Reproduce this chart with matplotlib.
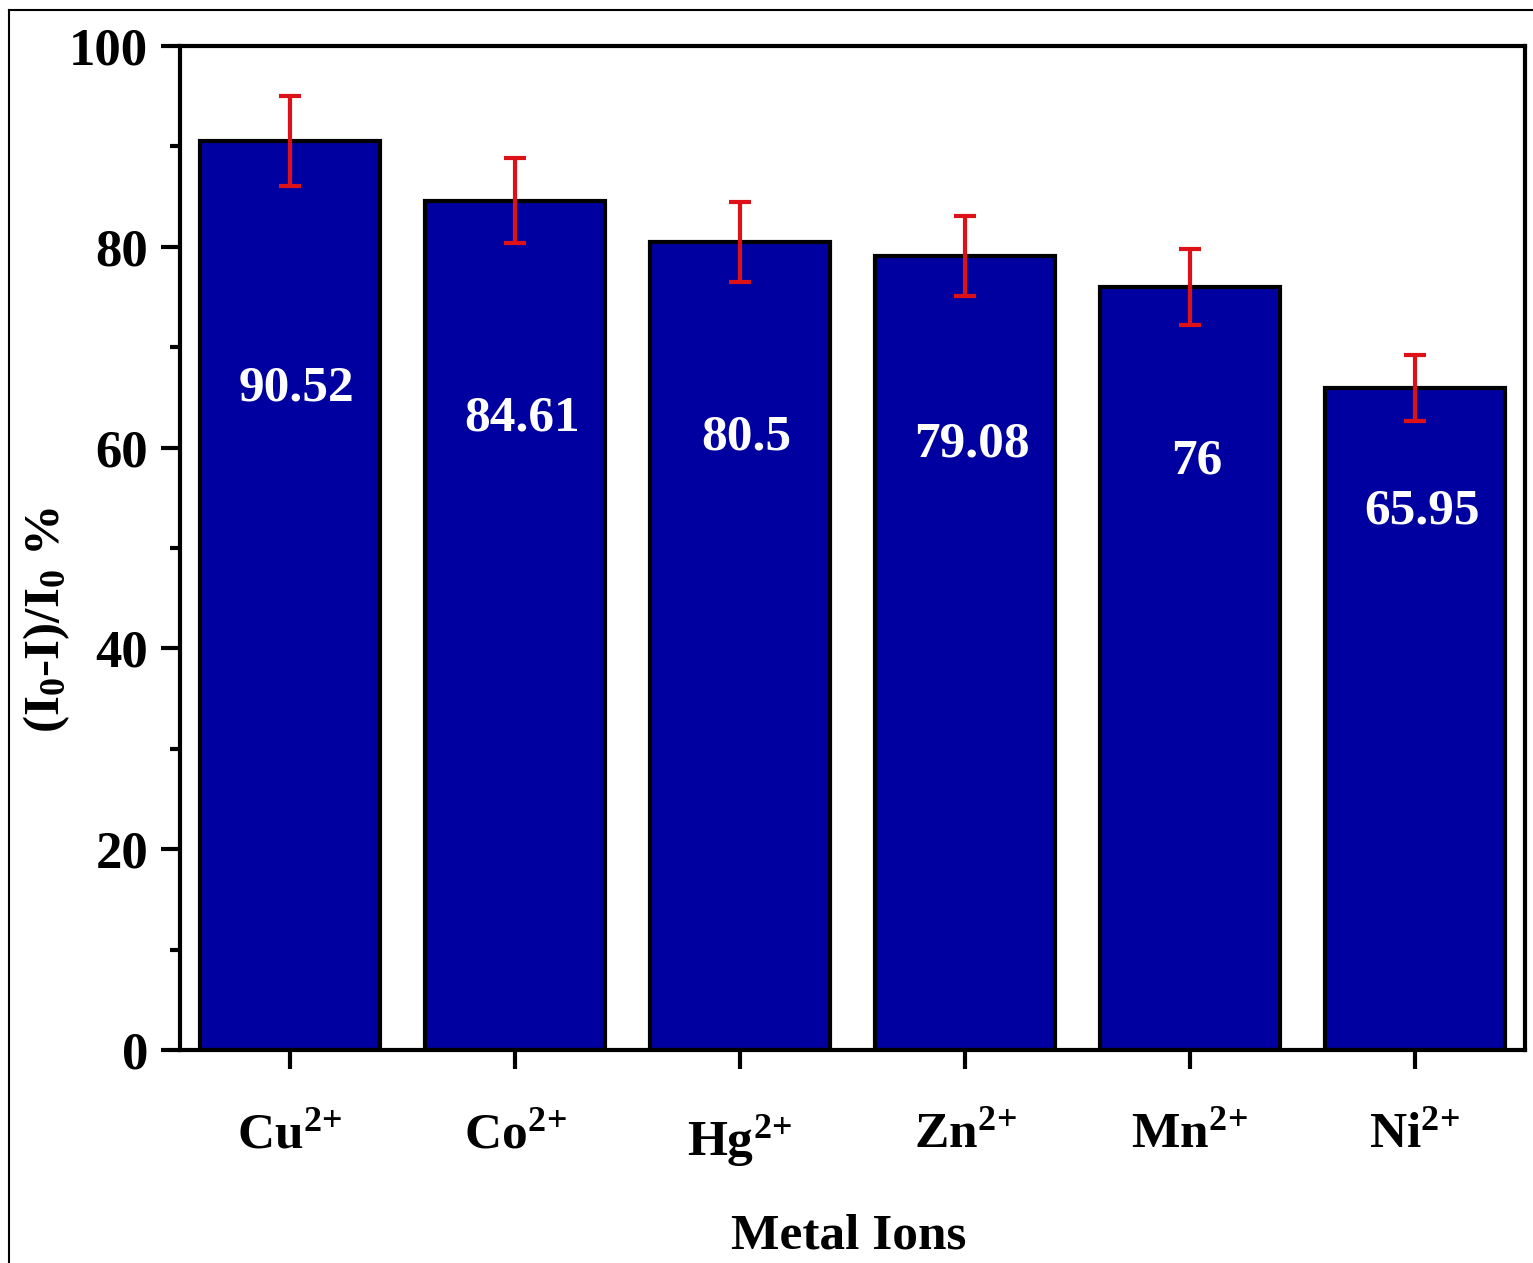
import matplotlib
matplotlib.use("Agg")
import matplotlib.pyplot as plt
from matplotlib.lines import Line2D
from matplotlib.ticker import MultipleLocator
import numpy as np

# data
ions = ["Cu", "Co", "Hg", "Zn", "Mn", "Ni"]
quench = [90.52, 84.61, 80.5, 79.08, 76, 65.95]
errors = [4.5, 4.2, 4.0, 4.0, 3.8, 3.3]
value_text = ["90.52", "84.61", "80.5", "79.08", "76", "65.95"]
label_y = [65.9, 62.9, 61.0, 60.3, 58.6, 53.6]

plt.rcParams['font.family'] = ['Liberation Serif', 'DejaVu Serif']
plt.rcParams['font.weight'] = 'bold'
plt.rcParams['mathtext.fontset'] = 'custom'
plt.rcParams['mathtext.rm'] = 'Liberation Serif'
plt.rcParams['mathtext.bf'] = 'Liberation Serif:bold'
plt.rcParams['mathtext.it'] = 'Liberation Serif:italic'

fig = plt.figure(figsize=(15.33, 12.63), dpi=100)
ax = fig.add_axes([0.1174, 0.1686, 0.8774, 0.795])

x = np.arange(len(ions))
ax.bar(x, quench, width=0.8, color='#0000A0', edgecolor='black', linewidth=3, zorder=2)
ax.errorbar(x, quench, yerr=errors, fmt='none', ecolor='#DD1118',
            elinewidth=3, capsize=8, capthick=3, zorder=3)

for xi, ly, txt in zip(x, label_y, value_text):
    ax.text(xi + 0.03, ly, txt, color='white', fontsize=37, fontweight='bold',
            ha='center', va='center', zorder=4)

ax.set_xlim(-0.49, 5.49)
ax.set_ylim(0, 100)
ax.set_xticks(x)
ax.set_xticklabels([n + r'$^{2\!+}$' for n in ions], fontsize=37, fontweight='bold')
ax.yaxis.set_major_locator(MultipleLocator(20))
ax.yaxis.set_minor_locator(MultipleLocator(10))
for lab in ax.get_yticklabels():
    lab.set_fontsize(38)
    lab.set_fontweight('bold')

ax.tick_params(axis='y', which='major', direction='out', length=14, width=3, pad=9)
ax.tick_params(axis='y', which='minor', direction='out', length=7, width=3)
ax.tick_params(axis='x', which='major', direction='out', length=14, width=3, pad=31)
for s in ax.spines.values():
    s.set_linewidth(3)

ax.set_xlabel('Metal Ions', fontsize=37, fontweight='bold')
ax.xaxis.set_label_coords(0.497, -0.163)
ax.set_ylabel(r'(I$_{\mathbf{0}}$-I)/I$_{\mathbf{0}}$ %', fontsize=37, fontweight='bold')
ax.yaxis.set_label_coords(-0.080, 0.428)

# outer frame of the cropped image (top and left only)
fig.add_artist(Line2D([0.00587, 1.0], [0.992, 0.992], transform=fig.transFigure,
                      color='black', linewidth=1.5))
fig.add_artist(Line2D([0.00587, 0.00587], [0.0, 0.992], transform=fig.transFigure,
                      color='black', linewidth=1.5))

fig.savefig('out.png', dpi=100)
